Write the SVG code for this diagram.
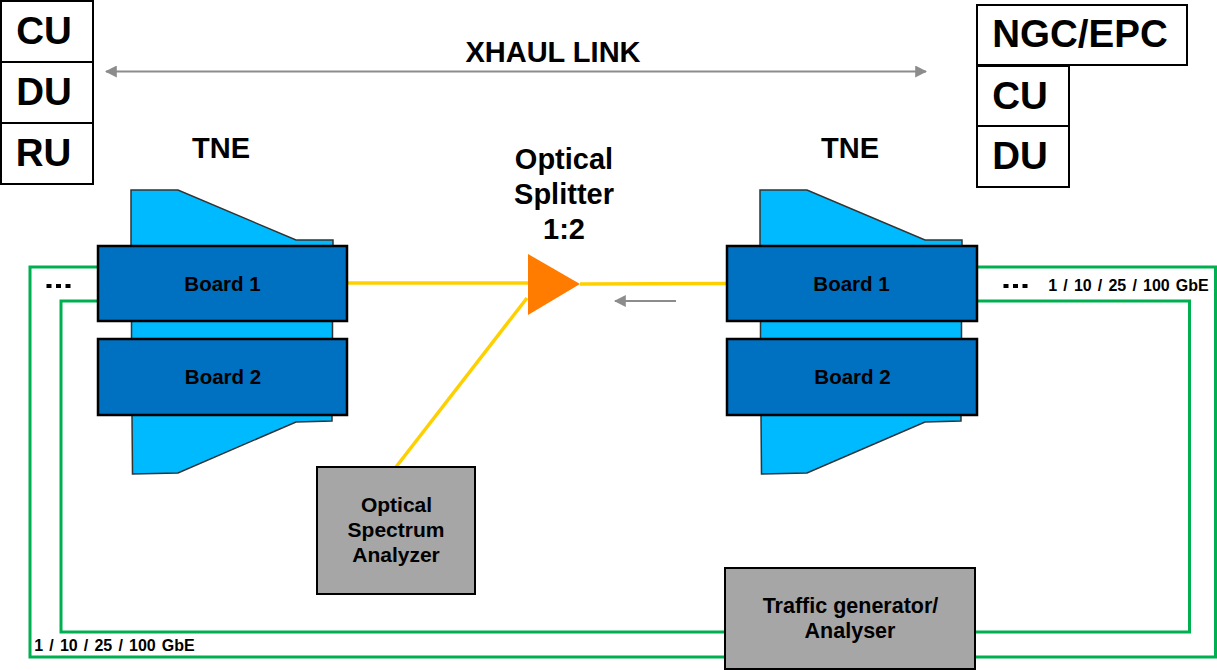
<svg xmlns="http://www.w3.org/2000/svg" width="1217" height="670" viewBox="0 0 1217 670">
<style>
text{font-family:"Liberation Sans",Arial,sans-serif;font-weight:bold;fill:#000;text-anchor:middle}
.stack{fill:#fff;stroke:#000;stroke-width:2}
.big{font-size:38.500px}
.title{font-size:29px}
.mid{font-size:20.500px}
.box{font-size:21px}
.small{font-size:16px;word-spacing:1.700px}
.board{fill:#0070c0;stroke:#000;stroke-width:2.5}
.tne{fill:#00baff;stroke:#333;stroke-width:1.5}
.grey{fill:#a6a6a6;stroke:#000;stroke-width:2}
.g{fill:none;stroke:#00b050;stroke-width:3}
.y{fill:none;stroke:#ffd000;stroke-width:3.5}
.a{fill:none;stroke:#8c8c8c;stroke-width:2}
.dots{fill:#000}
</style>
<defs>
<marker id="ah" viewBox="0 0 10 10" refX="9" refY="5" markerWidth="12" markerHeight="12" markerUnits="userSpaceOnUse" orient="auto-start-reverse"><path d="M0 0L10 5L0 10Z" fill="#8c8c8c"/></marker>
</defs>
<g id="tne-left-body"><path class="tne" d="M131 190H178L296 240L333 240V246H131Z"/><path class="tne" d="M131.500 321H332.500V339H131.500Z"/><path class="tne" d="M132 415H332V421L296 422L178 473L132.500 474Z"/></g>
<g id="tne-right-body"><path class="tne" d="M760 190H807L925 240L962 240V246H760Z"/><path class="tne" d="M760.500 321H961.500V339H760.500Z"/><path class="tne" d="M761 415H961V421L925 422L807 473L761.500 474Z"/></g>
<g id="connectors">
<path class="g" d="M98 267H30V657H725"/>
<path class="g" d="M98 301H61V632H725"/>
<path class="g" d="M977 267H1215.500V657H975"/>
<path class="g" d="M977 301H1189.500V632H975"/>
<path class="y" d="M347 283H530"/>
<path class="y" d="M580 284L726 283.500"/>
<path class="y" d="M527 298L396 467"/>
<path class="a" d="M106 71.500H926" marker-start="url(#ah)" marker-end="url(#ah)"/>
<path class="a" d="M676 301H615" marker-end="url(#ah)"/>
</g>
<g id="cu-left"><rect class="stack" x="1" y="1" width="92" height="61"/><text class="big" x="44" y="44">CU</text></g>
<g id="du-left"><rect class="stack" x="1" y="62" width="92" height="61"/><text class="big" x="44" y="105">DU</text></g>
<g id="ru-left"><rect class="stack" x="1" y="123" width="92" height="61"/><text class="big" x="43.500" y="166">RU</text></g>
<g id="ngc-epc"><rect class="stack" x="977" y="5" width="210" height="60"/><text class="big" x="1080" y="47">NGC/EPC</text></g>
<g id="cu-right"><rect class="stack" x="977" y="66" width="92" height="60"/><text class="big" x="1020" y="109">CU</text></g>
<g id="du-right"><rect class="stack" x="977" y="126" width="92" height="61"/><text class="big" x="1020" y="169">DU</text></g>
<g id="xhaul-label"><text class="title" x="553" y="62">XHAUL LINK</text></g>
<g id="tne-left-label"><text class="title" x="221" y="158">TNE</text></g>
<g id="tne-right-label"><text class="title" x="850" y="158">TNE</text></g>
<g id="splitter-label"><text class="title" x="564" y="169">Optical</text><text class="title" x="564" y="204">Splitter</text><text class="title" x="564" y="239">1:2</text></g>
<g id="board1-left"><rect class="board" x="98" y="246" width="249" height="75"/><text class="mid" x="222.500" y="291">Board 1</text></g>
<g id="board2-left"><rect class="board" x="98" y="339" width="249" height="76"/><text class="mid" x="223" y="384">Board 2</text></g>
<g id="board1-right"><rect class="board" x="727" y="246" width="250" height="75"/><text class="mid" x="851.500" y="291">Board 1</text></g>
<g id="board2-right"><rect class="board" x="727" y="339" width="250" height="76"/><text class="mid" x="852.500" y="384">Board 2</text></g>
<g id="splitter"><path fill="#ff7c00" d="M528 254L580 284L528 315Z"/></g>
<g id="osa"><rect class="grey" x="317" y="467" width="158" height="127"/><text class="box" x="396.500" y="512">Optical</text><text class="box" x="396" y="537">Spectrum</text><text class="box" x="396" y="562">Analyzer</text></g>
<g id="traffic"><rect class="grey" x="725" y="568" width="250" height="101"/><text class="box" x="850.500" y="613" style="font-size:21.500px">Traffic generator/</text><text class="box" x="850" y="638" style="font-size:21.500px">Analyser</text></g>
<g id="dots-left" class="dots"><rect x="46.500" y="284" width="5" height="4"/><rect x="56" y="284" width="5" height="4"/><rect x="65.500" y="284" width="5" height="4"/></g>
<g id="dots-right" class="dots"><rect x="1003.500" y="284" width="5" height="4"/><rect x="1013" y="284" width="5" height="4"/><rect x="1022.500" y="284" width="5" height="4"/></g>
<g id="rate-right"><text class="small" x="1128.500" y="291">1 / 10 / 25 / 100 GbE</text></g>
<g id="rate-left"><text class="small" x="114.500" y="651">1 / 10 / 25 / 100 GbE</text></g>
</svg>
